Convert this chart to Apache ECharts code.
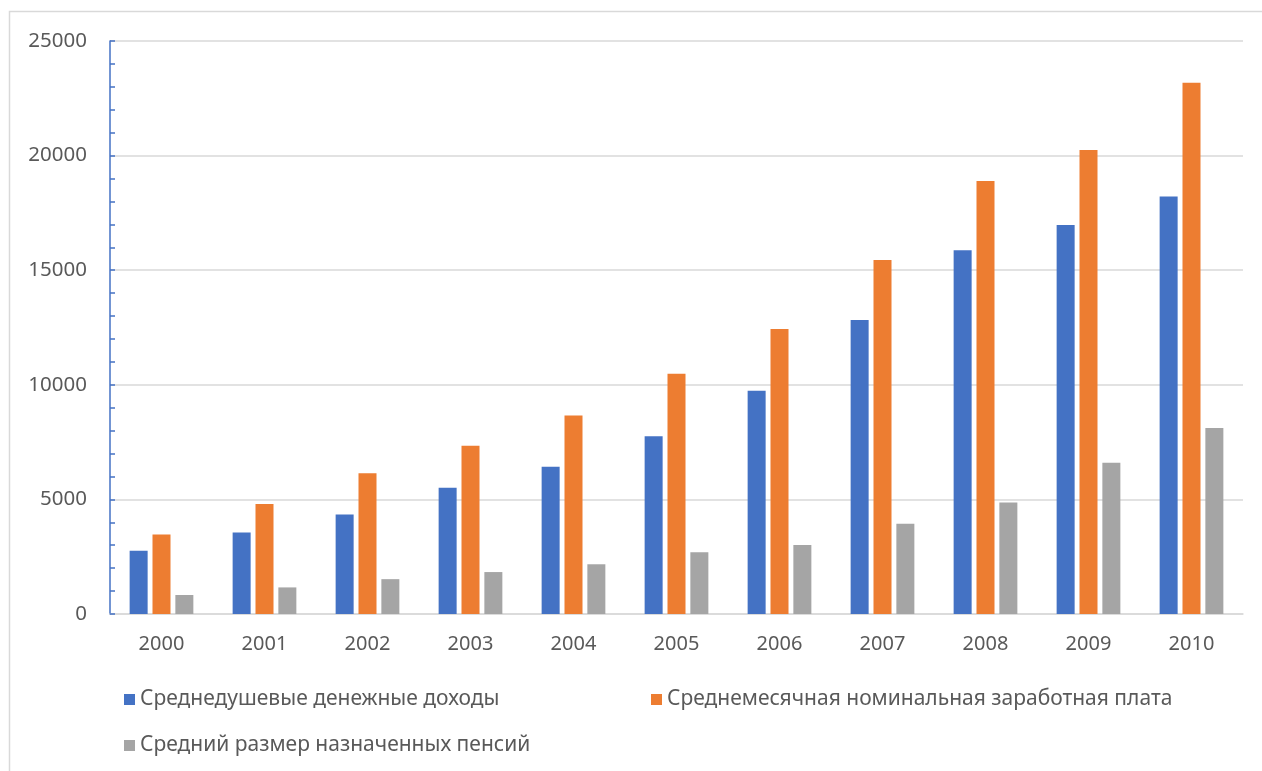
<!DOCTYPE html>
<html>
<head>
<meta charset="utf-8">
<script src="https://cdn.jsdelivr.net/npm/echarts@6/dist/echarts.min.js"></script>
<style>html,body{margin:0;padding:0;background:#fff}#c{width:1262px;height:771px}</style>
</head>
<body>
<div id="c"></div>
<script>
const years = ['2000','2001','2002','2003','2004','2005','2006','2007','2008','2009','2010'];
const incomeName = 'Среднедушевые денежные доходы';
const wageName = 'Среднемесячная номинальная заработная плата';
const pensionName = 'Средний размер назначенных пенсий';
const income = [2760, 3560, 4340, 5510, 6420, 7760, 9740, 12830, 15870, 16970, 18220];
const wage = [3470, 4800, 6140, 7340, 8660, 10480, 12440, 15450, 18890, 20240, 23180];
const pension = [830, 1160, 1520, 1830, 2170, 2690, 3010, 3940, 4870, 6600, 8110];
const yTicks = [0, 5000, 10000, 15000, 20000, 25000];

const FONT = 'Noto Sans';
const TXT = '#595959';
const chart = echarts.init(document.getElementById('c'), null, {renderer: 'canvas'});
const legendBase = {
  icon: 'rect', itemWidth: 11, itemHeight: 11, itemGap: 8,
  textStyle: {color: TXT, fontSize: 21, fontFamily: FONT}
};
chart.setOption({
  animation: false,
  color: ['#4472C4', '#ED7D31', '#A5A5A5'],
  graphic: [{
    type: 'rect', silent: true,
    shape: {x: 9.5, y: 11.5, width: 1400, height: 900},
    style: {fill: 'none', stroke: '#D9D9D9', lineWidth: 1.5}
  }],
  legend: [
    Object.assign({data: [incomeName], left: 119, top: 684}, legendBase),
    Object.assign({data: [wageName], left: 646, top: 684}, legendBase),
    Object.assign({data: [pensionName], left: 119, top: 730}, legendBase)
  ],
  grid: {left: 110, right: 19, top: 41, bottom: 157, containLabel: false},
  xAxis: {
    type: 'category', data: years,
    axisLine: {lineStyle: {color: '#D9D9D9', width: 1.5}},
    axisTick: {show: false},
    axisLabel: {color: TXT, fontSize: 20, fontFamily: FONT, margin: 20}
  },
  yAxis: {
    type: 'value', min: yTicks[0], max: yTicks[yTicks.length - 1], interval: 5000,
    axisLine: {show: true, lineStyle: {color: '#4472C4', width: 1.5}},
    axisTick: {show: true, inside: true, length: 5, lineStyle: {color: '#4472C4', width: 1.5}},
    minorTick: {show: true, splitNumber: 5, length: 5, lineStyle: {color: '#4472C4', width: 1.5}},
    splitLine: {show: true, lineStyle: {color: '#D9D9D9', width: 1.5}},
    axisLabel: {color: TXT, fontSize: 20.5, fontFamily: FONT, margin: 23, formatter: v => String(v)}
  },
  series: [
    {name: incomeName, type: 'bar', data: income, barWidth: 18, barGap: '27%'},
    {name: wageName, type: 'bar', data: wage, barWidth: 18, barGap: '27%'},
    {name: pensionName, type: 'bar', data: pension, barWidth: 18, barGap: '27%'}
  ]
});
</script>
</body>
</html>
